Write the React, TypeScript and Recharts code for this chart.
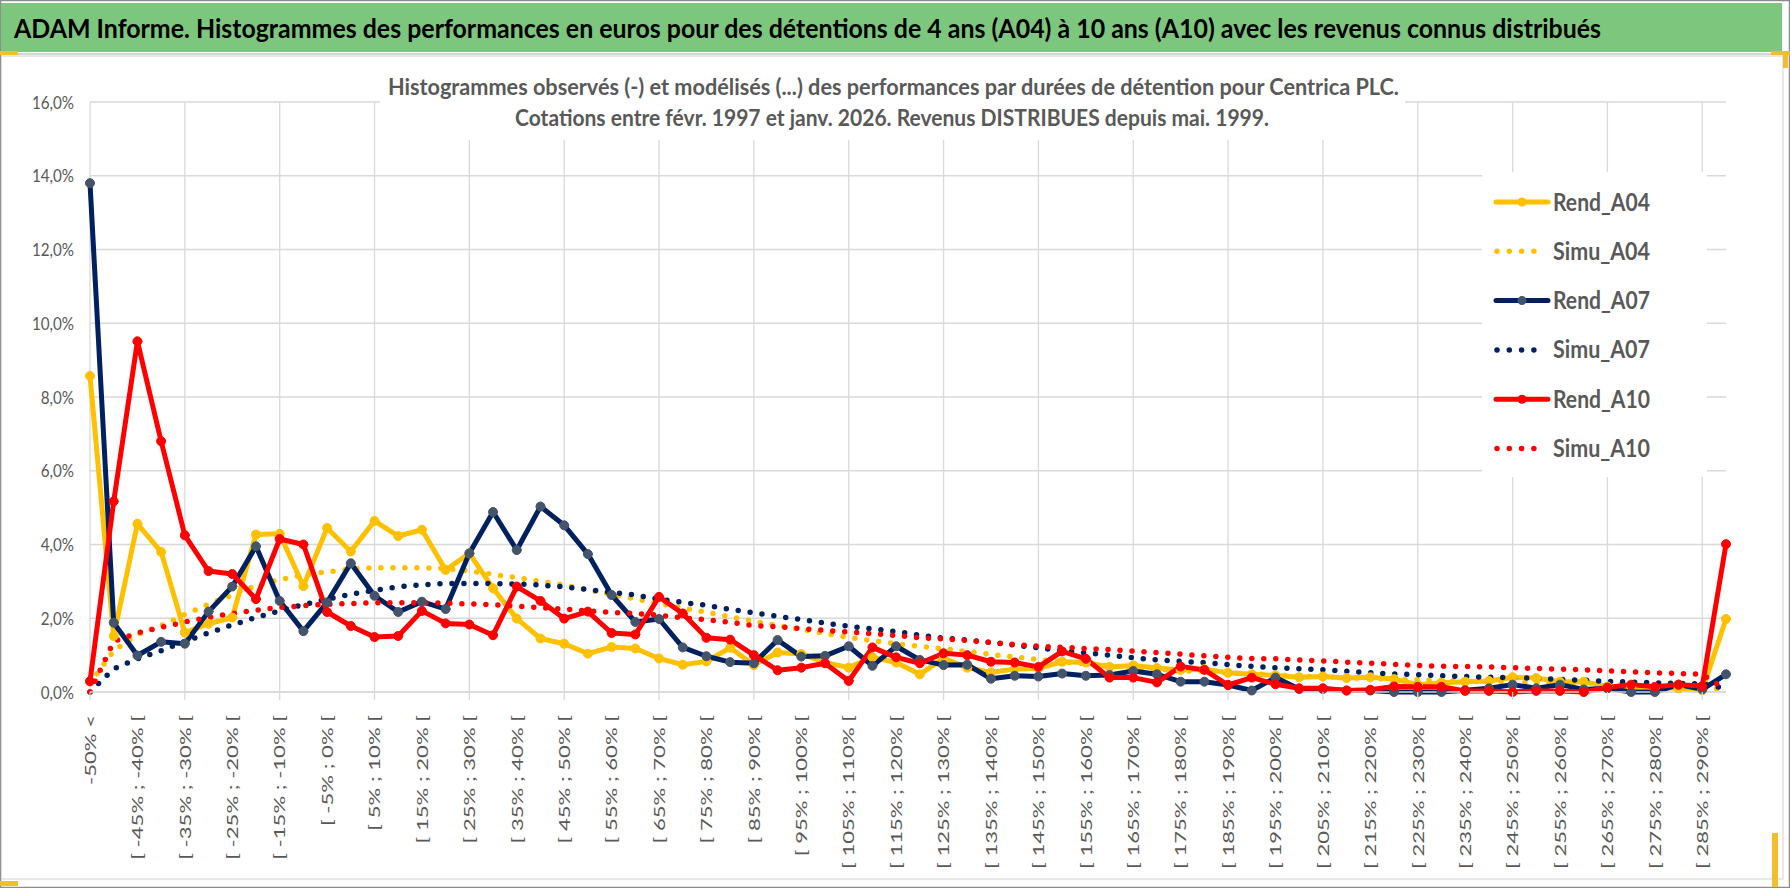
import React from 'react';
import { LineChart, Line, XAxis, YAxis, CartesianGrid, Legend } from 'recharts';

// ── Data ──

const CATEGORIES = [
  '-50% <',
  '[ -50% ; -45% [', '[ -45% ; -40% [', '[ -40% ; -35% [', '[ -35% ; -30% [', '[ -30% ; -25% [',
  '[ -25% ; -20% [', '[ -20% ; -15% [', '[ -15% ; -10% [', '[ -10% ; -5% [', '[ -5% ; 0% [',
  '[ 0% ; 5% [', '[ 5% ; 10% [', '[ 10% ; 15% [', '[ 15% ; 20% [', '[ 20% ; 25% [',
  '[ 25% ; 30% [', '[ 30% ; 35% [', '[ 35% ; 40% [', '[ 40% ; 45% [', '[ 45% ; 50% [',
  '[ 50% ; 55% [', '[ 55% ; 60% [', '[ 60% ; 65% [', '[ 65% ; 70% [', '[ 70% ; 75% [',
  '[ 75% ; 80% [', '[ 80% ; 85% [', '[ 85% ; 90% [', '[ 90% ; 95% [', '[ 95% ; 100% [',
  '[ 100% ; 105% [', '[ 105% ; 110% [', '[ 110% ; 115% [', '[ 115% ; 120% [', '[ 120% ; 125% [',
  '[ 125% ; 130% [', '[ 130% ; 135% [', '[ 135% ; 140% [', '[ 140% ; 145% [', '[ 145% ; 150% [',
  '[ 150% ; 155% [', '[ 155% ; 160% [', '[ 160% ; 165% [', '[ 165% ; 170% [', '[ 170% ; 175% [',
  '[ 175% ; 180% [', '[ 180% ; 185% [', '[ 185% ; 190% [', '[ 190% ; 195% [', '[ 195% ; 200% [',
  '[ 200% ; 205% [', '[ 205% ; 210% [', '[ 210% ; 215% [', '[ 215% ; 220% [', '[ 220% ; 225% [',
  '[ 225% ; 230% [', '[ 230% ; 235% [', '[ 235% ; 240% [', '[ 240% ; 245% [', '[ 245% ; 250% [',
  '[ 250% ; 255% [', '[ 255% ; 260% [', '[ 260% ; 265% [', '[ 265% ; 270% [', '[ 270% ; 275% [',
  '[ 275% ; 280% [', '[ 280% ; 285% [', '[ 285% ; 290% [',
  '> 290%',
];

const REND_A04 = [
  8.57, 1.52, 4.56, 3.8, 1.61, 1.85, 2.02, 4.27, 4.29, 2.87,
  4.45, 3.81, 4.64, 4.23, 4.4, 3.31, 3.76, 2.81, 1.99, 1.45,
  1.31, 1.04, 1.22, 1.18, 0.91, 0.74, 0.83, 1.2, 0.73, 1.07,
  1.03, 0.8, 0.66, 0.94, 0.8, 0.48, 0.91, 0.66, 0.53, 0.62,
  0.64, 0.82, 0.8, 0.68, 0.72, 0.65, 0.6, 0.62, 0.52, 0.48,
  0.45, 0.4, 0.42, 0.38, 0.4, 0.35, 0.2, 0.25, 0.28, 0.3,
  0.4, 0.38, 0.28, 0.28, 0.15, 0.15, 0.12, 0.1, 0.05, 1.98,
];

const SIMU_A04 = [
  0.23, 1.12, 1.56, 1.8, 2.1, 2.38, 2.63, 2.88, 3.05, 3.17,
  3.26, 3.33, 3.37, 3.37, 3.37, 3.35, 3.28, 3.19, 3.1, 3.0,
  2.9, 2.77, 2.65, 2.52, 2.4, 2.28, 2.16, 2.04, 1.92, 1.8,
  1.7, 1.59, 1.48, 1.39, 1.31, 1.24, 1.17, 1.1, 1.02, 0.95,
  0.88, 0.82, 0.76, 0.71, 0.66, 0.62, 0.58, 0.55, 0.52, 0.49,
  0.46, 0.43, 0.41, 0.39, 0.37, 0.35, 0.33, 0.31, 0.3, 0.28,
  0.27, 0.25, 0.24, 0.22, 0.21, 0.2, 0.18, 0.17, 0.16, 0.04,
];

const REND_A07 = [
  13.8, 1.88, 0.99, 1.36, 1.31, 2.18, 2.86, 3.95, 2.47, 1.65,
  2.43, 3.49, 2.61, 2.17, 2.45, 2.25, 3.76, 4.88, 3.85, 5.03,
  4.52, 3.74, 2.63, 1.9, 1.98, 1.21, 0.97, 0.81, 0.78, 1.41,
  0.96, 0.98, 1.24, 0.71, 1.24, 0.87, 0.73, 0.74, 0.36, 0.44,
  0.42, 0.5, 0.44, 0.46, 0.57, 0.48, 0.28, 0.28, 0.19, 0.04,
  0.39, 0.08, 0.08, 0.04, 0.04, 0.0, 0.0, 0.0, 0.05, 0.1,
  0.2, 0.1, 0.2, 0.07, 0.1, 0.0, 0.0, 0.2, 0.07, 0.48,
];

const SIMU_A07 = [
  0.0, 0.63, 0.9, 1.12, 1.37, 1.6, 1.82, 2.02, 2.2, 2.37,
  2.52, 2.65, 2.76, 2.85, 2.91, 2.94, 2.94, 2.94, 2.93, 2.9,
  2.85, 2.78, 2.7, 2.63, 2.52, 2.43, 2.35, 2.24, 2.15, 2.05,
  1.97, 1.87, 1.78, 1.71, 1.64, 1.54, 1.46, 1.41, 1.34, 1.27,
  1.2, 1.12, 1.06, 1.0, 0.93, 0.87, 0.83, 0.8, 0.74, 0.7,
  0.66, 0.63, 0.6, 0.56, 0.52, 0.49, 0.47, 0.44, 0.42, 0.4,
  0.39, 0.37, 0.34, 0.32, 0.29, 0.27, 0.25, 0.23, 0.22, 0.1,
];

const REND_A10 = [
  0.29, 5.17, 9.51, 6.8, 4.25, 3.28, 3.2, 2.52, 4.15, 4.0,
  2.17, 1.79, 1.49, 1.52, 2.2, 1.86, 1.83, 1.54, 2.86, 2.47,
  1.99, 2.18, 1.6, 1.56, 2.58, 2.13, 1.47, 1.42, 1.0, 0.59,
  0.66, 0.78, 0.3, 1.21, 0.94, 0.78, 1.05, 1.0, 0.82, 0.8,
  0.68, 1.1, 0.9, 0.39, 0.39, 0.26, 0.69, 0.6, 0.19, 0.39,
  0.21, 0.1, 0.1, 0.04, 0.06, 0.15, 0.14, 0.14, 0.03, 0.03,
  0.0, 0.03, 0.03, 0.0, 0.12, 0.2, 0.14, 0.2, 0.16, 4.01,
];

const SIMU_A10 = [
  0.0, 1.37, 1.6, 1.75, 1.9, 2.02, 2.13, 2.22, 2.29, 2.34,
  2.38, 2.4, 2.42, 2.42, 2.42, 2.41, 2.39, 2.37, 2.33, 2.29,
  2.25, 2.2, 2.16, 2.13, 2.08, 2.01, 1.96, 1.89, 1.8, 1.77,
  1.72, 1.67, 1.63, 1.58, 1.53, 1.47, 1.44, 1.4, 1.34, 1.29,
  1.24, 1.21, 1.18, 1.15, 1.11, 1.07, 1.03, 0.98, 0.94, 0.91,
  0.9, 0.87, 0.84, 0.81, 0.78, 0.75, 0.72, 0.7, 0.69, 0.68,
  0.66, 0.64, 0.62, 0.6, 0.57, 0.55, 0.52, 0.5, 0.48, 0.05,
];

const Y_TICKS = [0, 2, 4, 6, 8, 10, 12, 14, 16];

// every 4th category carries a vertical gridline and a tick mark
const GRID_EVERY = 4;

const TITLE =
  'ADAM Informe. Histogrammes des performances en euros pour des détentions de 4 ans (A04) à 10 ans (A10) avec les revenus connus distribués';
const SUBTITLE_1 =
  'Histogrammes observés (-) et modélisés (...) des performances par durées de détention pour Centrica PLC.';
const SUBTITLE_2 = 'Cotations entre févr. 1997 et janv. 2026. Revenus DISTRIBUES depuis mai. 1999.';

// ── Series styles ──

const SERIES = [
  { key: 'Rend_A04', values: REND_A04, color: '#FFC000', marker: '#FFC000', dotted: false },
  { key: 'Simu_A04', values: SIMU_A04, color: '#FFC000', marker: '', dotted: true },
  { key: 'Rend_A07', values: REND_A07, color: '#002060', marker: '#44546A', dotted: false },
  { key: 'Simu_A07', values: SIMU_A07, color: '#002060', marker: '', dotted: true },
  { key: 'Rend_A10', values: REND_A10, color: '#FF0000', marker: '#FF0000', dotted: false },
  { key: 'Simu_A10', values: SIMU_A10, color: '#FF0000', marker: '', dotted: true },
];

const rows = CATEGORIES.map((cat, i) => {
  const row: Record<string, any> = { cat };
  SERIES.forEach((s) => {
    row[s.key] = s.values[i];
  });
  return row;
});

const GREY = '#595959';
const GRID = '#d9d9d9';
const FONT = 'Lato, "Open Sans", sans-serif';

// plot box
const W = 1790;
const H = 888;
const MARGIN = { top: 102, right: 64, left: 30, bottom: 26 };
const Y_AXIS_W = 60;
const PLOT_LEFT = MARGIN.left + Y_AXIS_W;
const PLOT_W = W - PLOT_LEFT - MARGIN.right;

// vertical gridlines sit on every 4th category
const V_GRID: number[] = [];
for (let i = 0; i < CATEGORIES.length; i += GRID_EVERY) {
  V_GRID.push(PLOT_LEFT + (i * PLOT_W) / (CATEGORIES.length - 1));
}

// ── Ticks ──

function XTick({ x, y, payload }: any) {
  const idx = CATEGORIES.indexOf(payload.value);
  return (
    <g>
      {idx % GRID_EVERY === 0 && <line x1={x} x2={x} y1={y - 23} y2={y - 15} stroke={GRID} strokeWidth={1.3} />}
      <text
        transform={`translate(${x},${y}) rotate(-90) scale(1.38,1)`}
        textAnchor="end"
        dy="0.36em"
        fontSize={16}
        fontFamily={FONT}
        fill={GREY}
      >
        {payload.value}
      </text>
    </g>
  );
}

function YTick({ x, y, payload }: any) {
  const label = payload.value.toFixed(1).replace('.', ',') + '%';
  return (
    <text
      transform={`translate(${x},${y}) scale(0.95,1.13)`}
      textAnchor="end"
      dy="0.36em"
      fontSize={16}
      fontFamily={FONT}
      fill={GREY}
    >
      {label}
    </text>
  );
}

// ── Legend ──

function LegendBox() {
  return (
    <svg width={225} height={305} style={{ display: 'block' }}>
      {SERIES.map((s, i) => {
        const cy = 30 + i * 49.3;
        return (
          <g key={s.key}>
            {s.dotted ? (
              <line
                x1={15}
                x2={i === 5 ? 62 : 54}
                y1={cy}
                y2={cy}
                stroke={s.color}
                strokeWidth={5.5}
                strokeDasharray="0 12.3"
                strokeLinecap="round"
              />
            ) : (
              <g>
                <line x1={14} x2={66} y1={cy} y2={cy} stroke={s.color} strokeWidth={5} strokeLinecap="round" />
                <circle cx={40} cy={cy} r={4.5} fill={s.marker} />
              </g>
            )}
            <text
              x={71}
              y={cy + 8.5}
              fontSize={24}
              fontWeight={700}
              fontFamily={FONT}
              fill={GREY}
              textLength={97}
              lengthAdjust="spacingAndGlyphs"
            >
              {s.key}
            </text>
          </g>
        );
      })}
    </svg>
  );
}

// ── Chart ──

export default function App() {
  return (
    <div style={{ position: 'absolute', left: 0, top: 0, width: W, height: H, background: '#fff', fontFamily: FONT }}>
      {/* frame + header band */}
      <svg width={W} height={H} style={{ position: 'absolute', left: 0, top: 0 }}>
        <rect x={0.5} y={0.5} width={1789} height={887} fill="#fff" stroke="#8c8c8c" strokeWidth={1.5} />
        <rect x={1} y={3} width={1781} height={49} fill="#7DC67E" />
        <line x1={0} x2={1783} y1={54} y2={54} stroke="#c8c8c8" strokeWidth={1.5} />
        <rect x={1.5} y={56} width={1781.5} height={823} fill="none" stroke={GRID} strokeWidth={1.2} />
        <rect x={0} y={51} width={18} height={4} fill="#F2BE2C" />
        <rect x={1771} y={51} width={19} height={4} fill="#F2BE2C" />
        <rect x={1783} y={51} width={5} height={17} fill="#F2BE2C" />
        <rect x={0} y={881} width={18} height={5} fill="#F2BE2C" />
        <rect x={1772} y={833} width={6} height={54} fill="#F2BE2C" />
        <text
          x={14}
          y={38}
          fontSize={27}
          fontWeight={700}
          fontFamily={FONT}
          fill="#000"
          textLength={1587}
          lengthAdjust="spacingAndGlyphs"
        >
          {TITLE}
        </text>
      </svg>

      <div style={{ position: 'absolute', left: 0, top: 0 }}>
        <LineChart width={W} height={H} data={rows} margin={MARGIN}>
          <CartesianGrid stroke={GRID} strokeWidth={1.3} verticalPoints={V_GRID} />
          <XAxis
            dataKey="cat"
            interval={1}
            height={170}
            tickSize={0}
            tickMargin={23}
            axisLine={{ stroke: GRID, strokeWidth: 1.3 }}
            tick={<XTick />}
          />
          <YAxis
            domain={[0, 16]}
            ticks={Y_TICKS}
            width={Y_AXIS_W}
            tickSize={0}
            tickMargin={16}
            axisLine={false}
            tick={<YTick />}
          />
          {SERIES.map((s) => (
            <Line
              key={s.key}
              type="linear"
              dataKey={s.key}
              name={s.key}
              stroke={s.color}
              strokeWidth={s.dotted ? 5.5 : 5}
              strokeDasharray={s.dotted ? '0 12' : undefined}
              strokeLinecap="round"
              strokeLinejoin="round"
              dot={s.dotted ? false : { r: 4.5, fill: s.marker, stroke: s.marker, strokeWidth: 1 }}
              activeDot={false}
              isAnimationActive={false}
            />
          ))}
          <Legend
            layout="vertical"
            align="center"
            verticalAlign="middle"
            content={() => <LegendBox />}
            wrapperStyle={{ left: 1482, top: 172, width: 225, height: 305, background: '#fff' }}
          />
        </LineChart>
      </div>

      {/* chart subtitle box, drawn over the top gridline */}
      <svg width={W} height={H} style={{ position: 'absolute', left: 0, top: 0, pointerEvents: 'none' }}>
        <rect x={380} y={62} width={1025} height={78} fill="#fff" />
        <text
          x={388}
          y={95}
          fontSize={23}
          fontWeight={700}
          fontFamily={FONT}
          fill={GREY}
          textLength={1011}
          lengthAdjust="spacingAndGlyphs"
        >
          {SUBTITLE_1}
        </text>
        <text
          x={515}
          y={126}
          fontSize={23}
          fontWeight={700}
          fontFamily={FONT}
          fill={GREY}
          textLength={754}
          lengthAdjust="spacingAndGlyphs"
        >
          {SUBTITLE_2}
        </text>
      </svg>
    </div>
  );
}
